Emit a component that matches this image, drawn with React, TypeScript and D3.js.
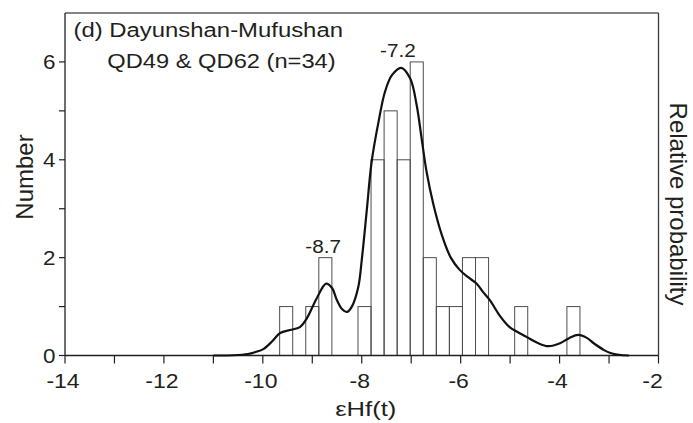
import * as d3 from "d3";

const W = 693;
const H = 423;
const FONT = "'Liberation Sans', Arial, Helvetica, sans-serif";
const INK = "#231f20";

// histogram of eHf(t) values (bin edges)
const binStart = -9.66;
const binWidth = 0.264;
const binCounts = [1, 0, 1, 2, 0, 0, 1, 4, 5, 4, 6, 2, 1, 1, 2, 2, 0, 0, 1, 0, 0, 0, 1];

// relative probability curve in "Number" units
const curveX = [
  -11.0, -10.6, -10.3, -10.15, -9.99, -9.82, -9.65, -9.45, -9.25, -9.11, -8.92, -8.72,
  -8.6, -8.51, -8.4, -8.3, -8.2, -8.07, -8.0, -7.9, -7.8, -7.66, -7.53, -7.39, -7.2,
  -7.02, -6.89, -6.79, -6.69, -6.55, -6.38, -6.2, -6.02, -5.85, -5.68, -5.55, -5.41,
  -5.2, -5.01, -4.85, -4.67, -4.45, -4.23, -3.99, -3.8, -3.62, -3.45, -3.31, -3.1,
  -2.97, -2.8, -2.6,
];
const curveY = [
  0, 0.005, 0.03, 0.07, 0.13, 0.28, 0.46, 0.52, 0.58, 0.76, 1.15, 1.47,
  1.38, 1.15, 0.95, 0.89, 1.0, 1.4, 1.95, 2.95, 3.96, 4.78, 5.39, 5.73, 5.88,
  5.66, 5.12, 4.44, 3.76, 3.08, 2.46, 2.0, 1.75, 1.6, 1.47, 1.3, 1.13,
  0.8, 0.58, 0.48, 0.38, 0.26, 0.19, 0.25, 0.36, 0.42, 0.36, 0.25, 0.11,
  0.05, 0.015, 0,
];

// peak annotations
const peakText = ["-8.7", "-7.2"];
const peakAtX = [-8.78, -7.27];
const peakAtY = [2.09, 6.11];

const titleLines = ["(d) Dayunshan-Mufushan", "QD49 & QD62 (n=34)"];

const MARGIN = { top: 13, right: 34.5, bottom: 67.5, left: 65 };

// horizontal text in the figure is stretched sideways
const SX = 1.18;

function Stretched({
  x,
  y,
  size,
  anchor = "middle",
  sx = SX,
  children,
}: {
  x: number;
  y: number;
  size: number;
  anchor?: string;
  sx?: number;
  children: string;
}) {
  return (
    <text
      transform={`translate(${x},${y}) scale(${sx},1)`}
      textAnchor={anchor}
      fontSize={size}
      fill={INK}
    >
      {children}
    </text>
  );
}

export default function App() {
  const x = d3
    .scaleLinear()
    .domain([-14, -2])
    .range([MARGIN.left, W - MARGIN.right]);
  const y = d3
    .scaleLinear()
    .domain([0, 7])
    .range([H - MARGIN.bottom, MARGIN.top]);

  const x0 = x.range()[0];
  const x1 = x.range()[1];
  const y0 = y.range()[0];
  const y1 = y.range()[1];

  const bars = binCounts
    .map((c, i) => ({ lo: binStart + i * binWidth, hi: binStart + (i + 1) * binWidth, c }))
    .filter((b) => b.c > 0);

  const line = d3
    .line<number>()
    .x((_, i) => x(curveX[i]))
    .y((d) => y(d))
    .curve(d3.curveCatmullRom.alpha(0.5));

  const xTicks = x.ticks(12);
  const yTicks = y.ticks(7).filter((v) => v <= 6);

  return (
    <svg
      width={W}
      height={H}
      style={{ position: "absolute", left: 0, top: 0, display: "block", background: "#fff" }}
      fontFamily={FONT}
    >
      {/* bars */}
      {bars.map((b, i) => (
        <rect
          key={i}
          x={x(b.lo)}
          y={y(b.c)}
          width={x(b.hi) - x(b.lo)}
          height={y(0) - y(b.c)}
          fill="none"
          stroke="#4d4d4d"
          strokeWidth={1}
        />
      ))}

      {/* frame */}
      <line x1={x0} x2={x1} y1={y1} y2={y1} stroke="#5a5a5a" strokeWidth={1.3} />
      <line x1={x1} x2={x1} y1={y1} y2={y0} stroke="#3a3a3a" strokeWidth={1.3} />
      <line x1={x0} x2={x0} y1={y1} y2={y0} stroke={INK} strokeWidth={1.3} />
      <line x1={x0} x2={x1} y1={y0} y2={y0} stroke={INK} strokeWidth={1.3} />

      {/* probability curve */}
      <path d={line(curveY) ?? ""} fill="none" stroke="#111" strokeWidth={2.2} />

      {/* x axis */}
      {xTicks.map((t) => (
        <g key={t} transform={`translate(${x(t)},0)`}>
          <line y1={y0} y2={y0 + 8} stroke={INK} strokeWidth={1.2} />
          {t % 2 === 0 && (
            <Stretched x={t === -2 ? -6 : -2} y={388} size={19.5}>
              {String(t)}
            </Stretched>
          )}
        </g>
      ))}

      {/* y axis */}
      {yTicks.map((t) => (
        <g key={t} transform={`translate(0,${y(t)})`}>
          <line x1={x0 - 6} x2={x0} stroke={INK} strokeWidth={1.2} />
          {t % 2 === 0 && (
            <Stretched x={x0 - 9.5} y={7} size={19.5} anchor="end" sx={1.15}>
              {String(t)}
            </Stretched>
          )}
        </g>
      ))}

      {/* axis titles */}
      <Stretched x={(x0 + x1) / 2 + 4} y={416} size={21} sx={1.22}>
        εHf(t)
      </Stretched>
      <text
        transform={`translate(33,177) rotate(-90)`}
        textAnchor="middle"
        fontSize={24}
        fill={INK}
      >
        Number
      </text>
      <text
        transform={`translate(670,204) rotate(90)`}
        textAnchor="middle"
        fontSize={24}
        fill={INK}
      >
        Relative probability
      </text>

      {/* title */}
      <Stretched x={73.5} y={36.5} size={19.5} anchor="start" sx={1.225}>
        {titleLines[0]}
      </Stretched>
      <Stretched x={107.3} y={68} size={19.5} anchor="start" sx={1.215}>
        {titleLines[1]}
      </Stretched>

      {/* peak labels */}
      {peakText.map((s, i) => (
        <Stretched key={s} x={x(peakAtX[i])} y={y(peakAtY[i])} size={18.5} sx={1.12}>
          {s}
        </Stretched>
      ))}
    </svg>
  );
}
